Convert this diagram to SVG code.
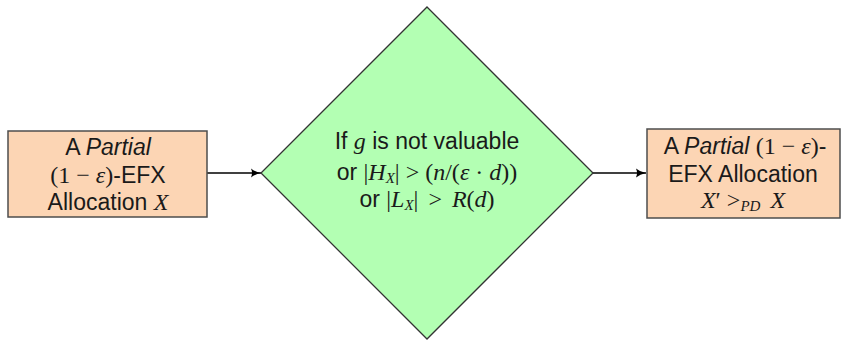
<svg xmlns="http://www.w3.org/2000/svg" width="842" height="340" viewBox="0 0 842 340">
<defs>
<style>
.box{fill:#fcd5b4;stroke:#4d4d4d;stroke-width:1.5}
.dia{fill:#b3ffb3;stroke:#333333;stroke-width:1.3}
.t{font-family:"Liberation Sans",Arial,sans-serif;font-size:23px;fill:#1a1a1a;text-anchor:middle}
.m{font-family:"Liberation Serif","Times New Roman",serif;font-size:24px}
.i{font-style:italic}
.conn{stroke:#000;stroke-width:1.6;fill:none;marker-end:url(#ah)}
</style>
<marker id="ah" viewBox="0 0 10 10" refX="10" refY="5" markerWidth="10" markerHeight="10" markerUnits="userSpaceOnUse" orient="auto">
<path d="M0,0.5 Q4,4 10,5 Q4,6 0,9.5 Q2,5 0,0.5 Z" fill="#000"/>
</marker>
</defs>
<rect width="842" height="340" fill="#fff"/>
<g id="connectors">
<line class="conn" x1="207" y1="173" x2="261" y2="173"/>
<line class="conn" x1="592" y1="173" x2="646" y2="173"/>
</g>
<g id="node-left">
<rect class="box" x="8" y="131" width="199" height="86"/>
<text class="t" x="108" y="155">A <tspan class="i">Partial</tspan></text>
<text class="t" x="108" y="183"><tspan class="m">(1 − <tspan class="i">ε</tspan>)</tspan>-EFX</text>
<text class="t" x="108" y="210">Allocation <tspan class="m i">X</tspan></text>
</g>
<g id="node-decision">
<polygon class="dia" points="427,7 593,173 427,339 261,173"/>
<text class="t" x="427" y="149">If <tspan class="m i">g</tspan> is not valuable</text>
<text class="t" x="427" y="180">or <tspan class="m">|<tspan class="i">H</tspan><tspan class="i" font-size="15" dy="3">X</tspan><tspan dy="-3">|</tspan><tspan dx="6">&gt;</tspan><tspan dx="6">(<tspan class="i">n</tspan>/(<tspan class="i">ε</tspan> · <tspan class="i">d</tspan>))</tspan></tspan></text>
<text class="t" x="427" y="207">or <tspan class="m">|<tspan class="i">L</tspan><tspan class="i" font-size="15" dy="3">X</tspan><tspan dy="-3">|</tspan><tspan dx="10">&gt;</tspan><tspan dx="10" class="i">R</tspan>(<tspan class="i">d</tspan>)</tspan></text>
</g>
<g id="node-right">
<rect class="box" x="647" y="129" width="193" height="89"/>
<text class="t" x="745" y="154">A <tspan class="i">Partial</tspan> <tspan class="m">(1 − <tspan class="i">ε</tspan>)</tspan>-</text>
<text class="t" x="743" y="182">EFX Allocation</text>
<text class="t" x="743" y="208"><tspan class="m"><tspan class="i">X</tspan>′<tspan dx="6">&gt;</tspan><tspan class="i" font-size="15" dy="3">PD</tspan><tspan dy="-3" dx="10" class="i">X</tspan></tspan></text>
</g>
</svg>
